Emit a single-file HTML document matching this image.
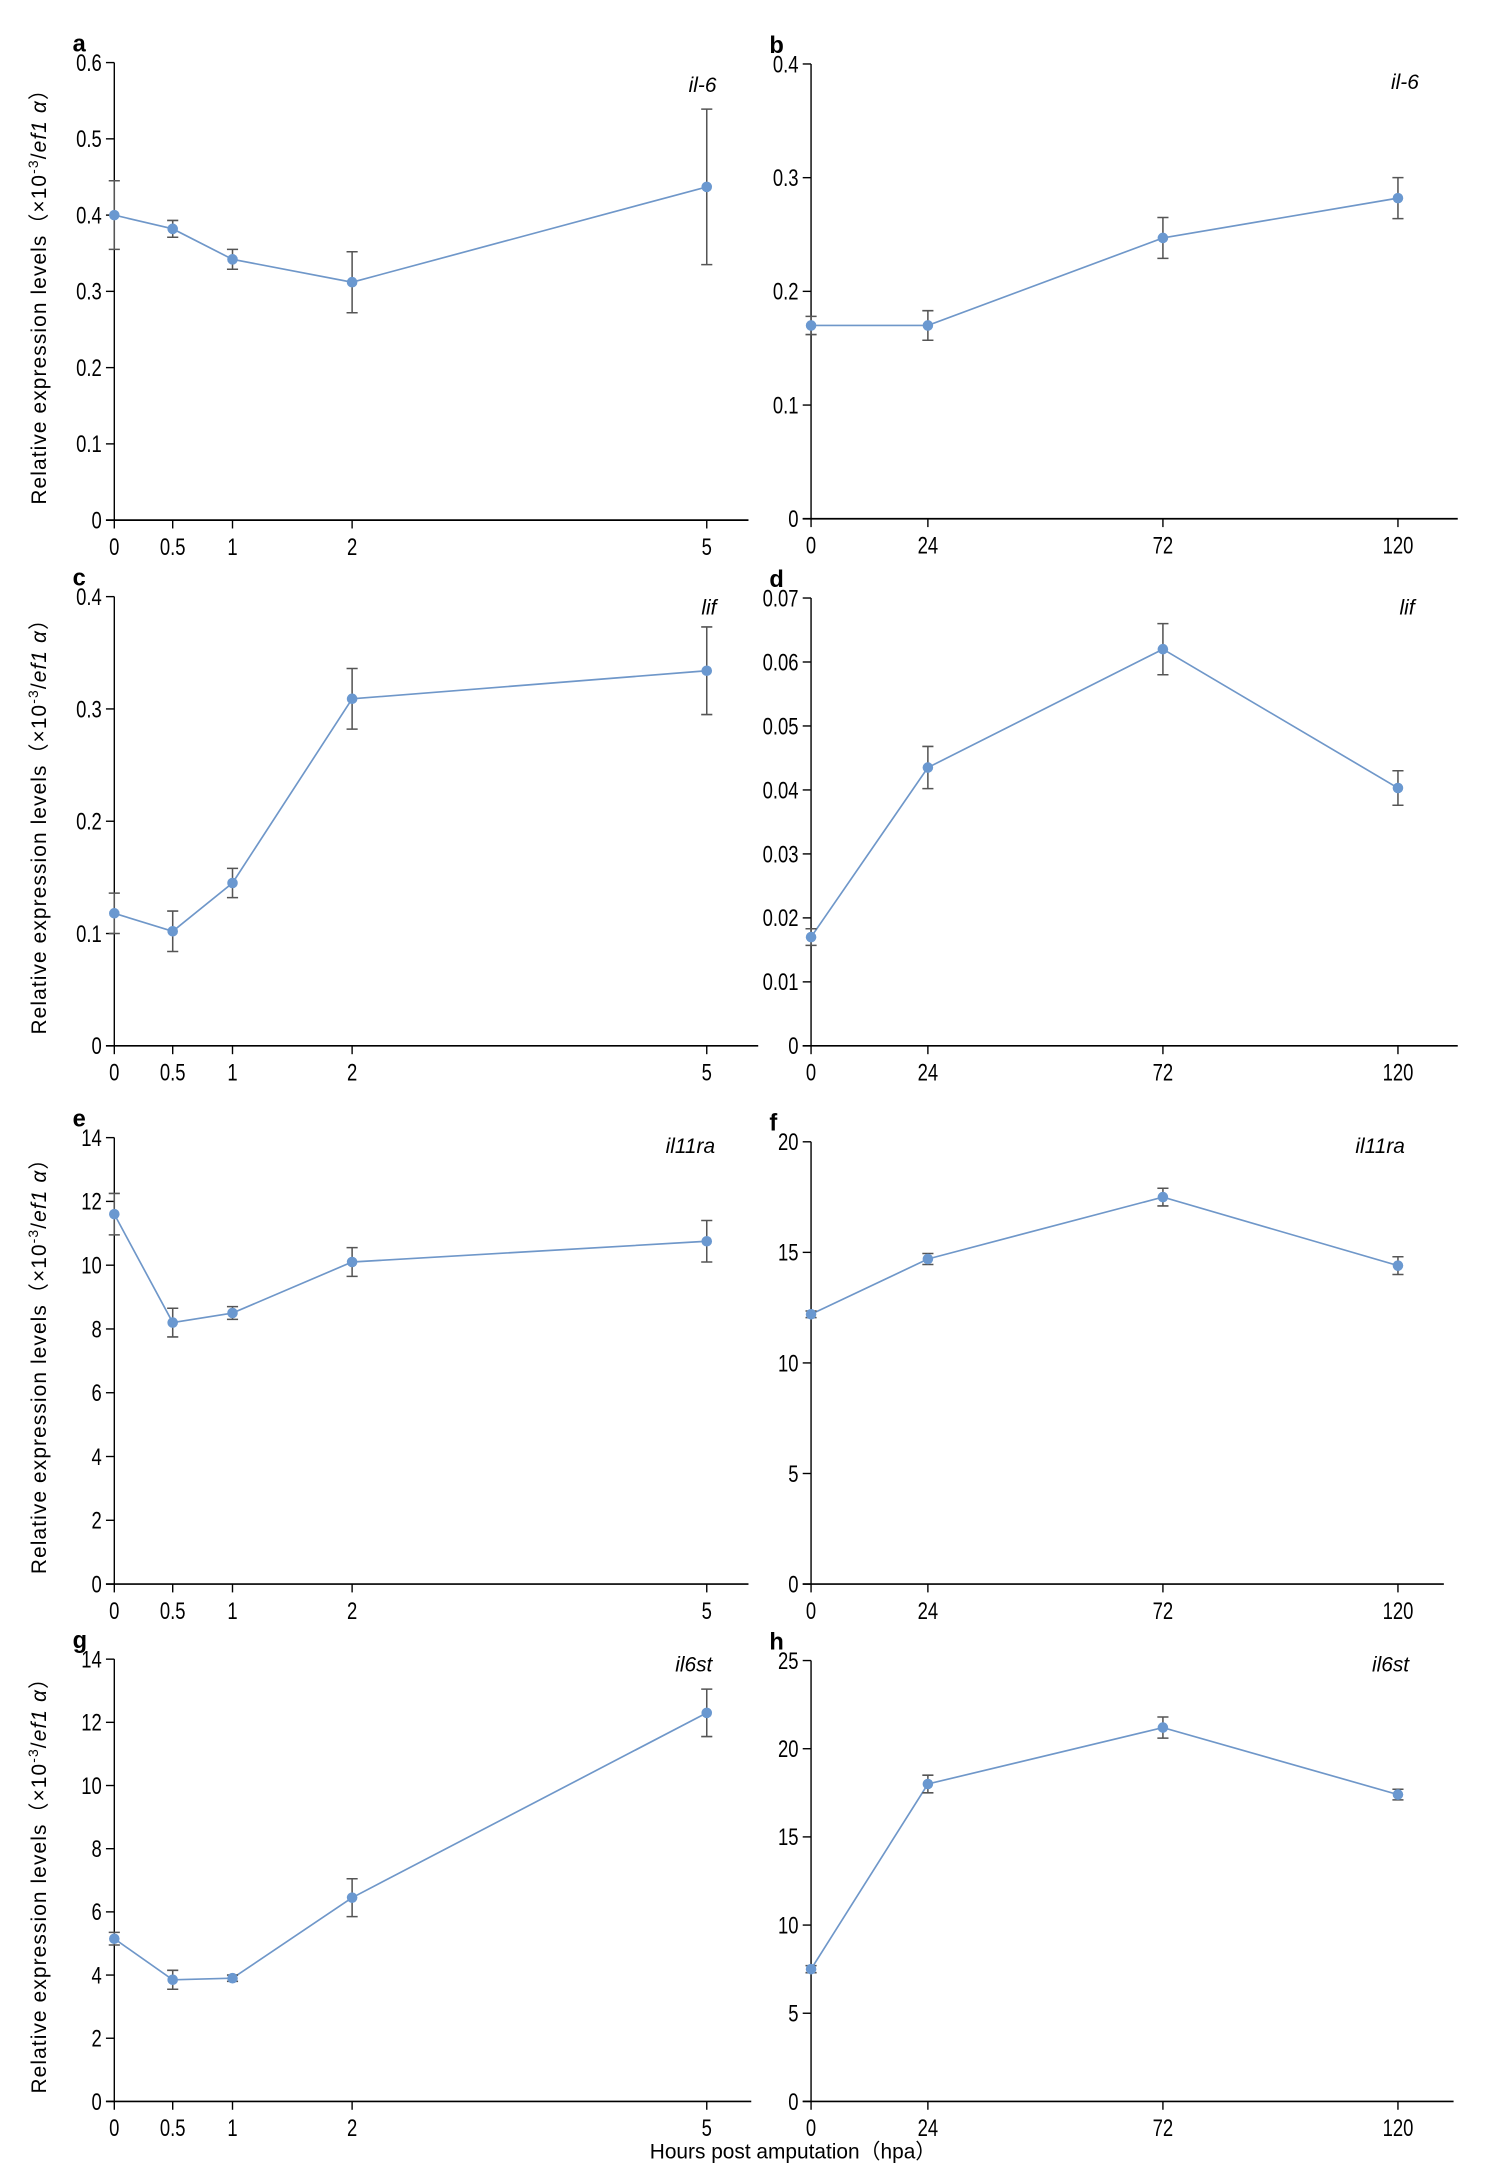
<!DOCTYPE html>
<html><head><meta charset="utf-8"><style>
html,body{margin:0;padding:0;background:#fff;}
svg{display:block;}
text{font-family:"Liberation Sans","Noto Sans CJK JP",sans-serif;fill:#000;}
</style></head><body>
<svg id="fig" width="1490" height="2164" viewBox="0 0 1071 1556" xmlns="http://www.w3.org/2000/svg"></svg>
<script>
const xEarly = [0, 0.5, 1, 2, 5];
const xLate = [0, 24, 72, 120];
const xEarlyLabels = ["0", "0.5", "1", "2", "5"];
const xLateLabels = ["0", "24", "72", "120"];

const aVals = [0.40, 0.382, 0.342, 0.312, 0.437];
const aErr = [0.045, 0.011, 0.013, 0.04, 0.102];
const bVals = [0.170, 0.170, 0.247, 0.282];
const bErr = [0.008, 0.013, 0.018, 0.018];
const cVals = [0.118, 0.102, 0.145, 0.309, 0.334];
const cErr = [0.018, 0.018, 0.013, 0.027, 0.039];
const dVals = [0.017, 0.0435, 0.062, 0.0403];
const dErr = [0.0013, 0.0033, 0.004, 0.0027];
const eVals = [11.6, 8.2, 8.5, 10.1, 10.75];
const eErr = [0.65, 0.45, 0.2, 0.45, 0.65];
const fVals = [12.2, 14.7, 17.5, 14.4];
const fErr = [0.15, 0.25, 0.4, 0.4];
const gVals = [5.15, 3.85, 3.9, 6.45, 12.3];
const gErr = [0.2, 0.3, 0.1, 0.6, 0.75];
const hVals = [7.5, 18.0, 21.2, 17.4];
const hErr = [0.2, 0.5, 0.6, 0.3];

const aTicks = ["0","0.1","0.2","0.3","0.4","0.5","0.6"];
const bTicks = ["0","0.1","0.2","0.3","0.4"];
const cTicks = ["0","0.1","0.2","0.3","0.4"];
const dTicks = ["0","0.01","0.02","0.03","0.04","0.05","0.06","0.07"];
const eTicks = ["0","2","4","6","8","10","12","14"];
const fTicks = ["0","5","10","15","20"];
const gTicks = ["0","2","4","6","8","10","12","14"];
const hTicks = ["0","5","10","15","20","25"];

const NS = "http://www.w3.org/2000/svg";
const svg = document.getElementById("fig");
function mk(tag, attrs, parent){
  const e = document.createElementNS(NS, tag);
  for (const k in attrs) e.setAttribute(k, attrs[k]);
  (parent||svg).appendChild(e);
  return e;
}

const panels = [
  {id:"a", gene:"il-6", xs:xEarly, xl:xEarlyLabels, xpx:[82,124,167,253,508], vals:aVals, err:aErr, ticks:aTicks, ax:82, top:45, bot:374, xend:538, gx:515, gy:66, ylab:true},
  {id:"b", gene:"il-6", xs:xLate, xl:xLateLabels, xpx:[583,667,836,1005], vals:bVals, err:bErr, ticks:bTicks, ax:583, top:46, bot:373, xend:1048, gx:1020, gy:64},
  {id:"c", gene:"lif", xs:xEarly, xl:xEarlyLabels, xpx:[82,124,167,253,508], vals:cVals, err:cErr, ticks:cTicks, ax:82, top:429, bot:752, xend:545, gx:515, gy:442, ylab:true},
  {id:"d", gene:"lif", xs:xLate, xl:xLateLabels, xpx:[583,667,836,1005], vals:dVals, err:dErr, ticks:dTicks, ax:583, top:430, bot:752, xend:1048, gx:1017, gy:442},
  {id:"e", gene:"il11ra", xs:xEarly, xl:xEarlyLabels, xpx:[82,124,167,253,508], vals:eVals, err:eErr, ticks:eTicks, ax:82, top:818, bot:1139, xend:538, gx:514, gy:829, ylab:true},
  {id:"f", gene:"il11ra", xs:xLate, xl:xLateLabels, xpx:[583,667,836,1005], vals:fVals, err:fErr, ticks:fTicks, ax:583, top:821, bot:1139, xend:1038, gx:1010, gy:829},
  {id:"g", gene:"il6st", xs:xEarly, xl:xEarlyLabels, xpx:[82,124,167,253,508], vals:gVals, err:gErr, ticks:gTicks, ax:82, top:1193, bot:1511, xend:540, gx:512, gy:1202, ylab:true},
  {id:"h", gene:"il6st", xs:xLate, xl:xLateLabels, xpx:[583,667,836,1005], vals:hVals, err:hErr, ticks:hTicks, ax:583, top:1194, bot:1511, xend:1045, gx:1013, gy:1202}
];

panels.forEach(p => {
  const g = mk("g", {});
  
  
  const ymax = parseFloat(p.ticks[p.ticks.length-1]);
  const y = v => p.bot - (v / ymax) * (p.bot - p.top);
  const x = v => p.xpx[p.xs.indexOf(v)];
  const yAxis = mk("line", {x1:p.ax, y1:p.top, x2:p.ax, y2:p.bot, stroke:"#000", "stroke-width":1}, g);
  
  
  const xAxis = mk("line", {x1:p.ax-6, y1:p.bot, x2:p.xend, y2:p.bot, stroke:"#000", "stroke-width":1.2}, g);
  
  
  p.ticks.forEach(t => {
    const yy = y(parseFloat(t));
    mk("line", {x1:p.ax-6, y1:yy, x2:p.ax, y2:yy, stroke:"#000", "stroke-width":1}, g);
    const tx = p.ax-9;
    const tl = mk("text", {x:tx, y:yy+6, "text-anchor":"end", "font-size":17, transform:`translate(${tx*0.22},0) scale(0.78,1)`}, g);
    
    
    tl.textContent = t;
  });
  p.xs.forEach((v,i) => {
    const xx = x(v);
    mk("line", {x1:xx, y1:p.bot, x2:xx, y2:p.bot+6, stroke:"#000", "stroke-width":1}, g);
    const tl = mk("text", {x:xx, y:p.bot+25, "text-anchor":"middle", "font-size":17, transform:`translate(${xx*0.22},0) scale(0.78,1)`}, g);
    
    
    tl.textContent = p.xl[i];
  });
  const pts = p.vals.map((v,i) => x(p.xs[i]) + "," + y(v)).join(" ");
  const ln = mk("polyline", {points:pts, fill:"none", stroke:"#6f97c9", "stroke-width":1.2}, g);
  
  
  p.vals.forEach((v,i) => {
    const xx = x(p.xs[i]);
    const y1 = y(v + p.err[i]), y2 = y(v - p.err[i]);
    const eb = mk("path", {d:`M${xx},${y1}V${y2}M${xx-4},${y1}H${xx+4}M${xx-4},${y2}H${xx+4}`, stroke:"#555", "stroke-width":1.1, fill:"none"}, g);
    
    
    const c = mk("circle", {cx:xx, cy:y(v), r:3.8, fill:"#6a98d0"}, g);
    
    
  });
  const lt = mk("text", {x:p.ax-30, y:p.top-8, "font-size":17, "font-weight":"bold"}, g);
  
  
  lt.textContent = p.id;
  const gl = mk("text", {x:p.gx, y:p.gy, "text-anchor":"end", "font-size":15, "font-style":"italic"}, g);
  
  
  gl.textContent = p.gene;
  if (p.ylab) {
    const cy = (p.top + p.bot) / 2;
    const yt = mk("text", {x:0, y:0, "text-anchor":"middle", "font-size":15, "letter-spacing":"0.8", transform:`translate(33,${cy}) rotate(-90)`}, g);
    
    
    yt.innerHTML = 'Relative expression levels（×10<tspan dy="-6" font-size="10">-3</tspan><tspan dy="6">/</tspan><tspan font-style="italic">ef1 α</tspan>）';
  }
});

const xt = mk("text", {x:570, y:1552, "text-anchor":"middle", "font-size":15});


xt.textContent = "Hours post amputation（hpa）";
</script>
</body></html>
